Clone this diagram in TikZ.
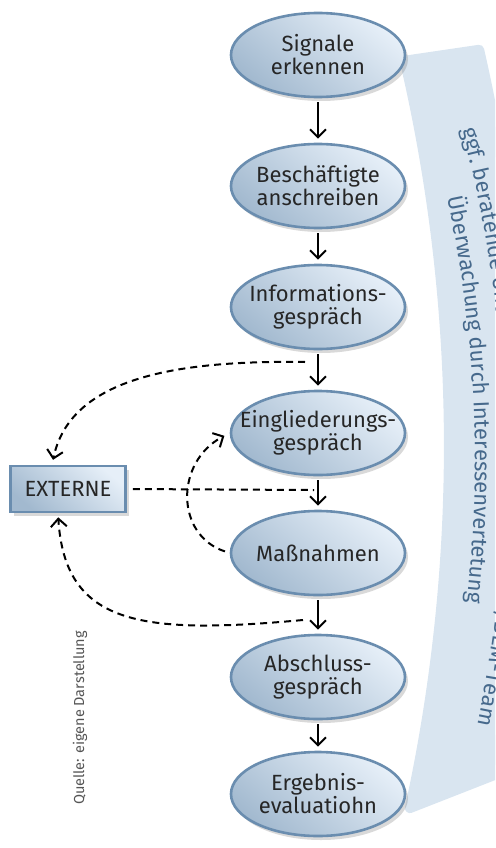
\documentclass[tikz,border=0pt]{standalone}
\usepackage{fontspec}
\setmainfont{Fira Sans}
\usetikzlibrary{shapes.geometric, arrows.meta, shadows, decorations.text}

\definecolor{rimblue}{HTML}{6A8DAF}
\definecolor{fillhi}{HTML}{E6EFF8}
\definecolor{filllo}{HTML}{A2B9CF}
\definecolor{bandblue}{HTML}{D9E5F0}
\definecolor{bandtext}{HTML}{46698C}
\definecolor{quellegray}{HTML}{555555}
\newcommand{\phasefont}{\fontsize{22}{23}\selectfont}
\newcommand{\bandfont}{\fontsize{22}{24}\selectfont}
\newcommand{\quellefont}{\fontsize{14.5}{16}\selectfont}

\begin{document}
\begin{tikzpicture}[x=1pt, y=1pt,
    phase/.style={ellipse, draw=rimblue, line width=2.6pt, top color=fillhi, bottom color=filllo, shading angle=-40,
        minimum width=174pt, minimum height=84pt, inner xsep=-40pt, inner ysep=-10pt,
        align=center, font=\phasefont, text=black!85,
        drop shadow={shadow xshift=3pt, shadow yshift=-4pt, opacity=0.3}},
    extbox/.style={rectangle, draw=rimblue, line width=2.6pt, top color=fillhi, bottom color=filllo, shading angle=-40,
        minimum width=115pt, minimum height=46pt, font=\phasefont, text=black!85,
        drop shadow={shadow xshift=3pt, shadow yshift=-4pt, opacity=0.3}},
    flow/.style={-{Straight Barb[length=8pt, width=16pt]}, line width=2pt},
    link/.style={flow, dash pattern=on 7pt off 5pt},
]
\useasboundingbox (0,0) rectangle (495,-848);
\clip (0,0) rectangle (495,-848);

% Band on the right
\coordinate (bandc) at (-1251,-446);
\filldraw[bandblue, line width=10pt, line join=round] ([shift={(13.1:1700)}]bandc) -- ([shift={(12.9:1775)}]bandc)
    arc[start angle=12.9, end angle=-10.7, radius=1775] -- ([shift={(-12.3:1700)}]bandc)
    arc[start angle=-12.3, end angle=13.1, radius=1700] -- cycle;

% Band labels
\coordinate (textc) at (-795,-460);
\path[decorate, decoration={text along path, text align=center, text color=bandtext,
    text={|\bandfont|ggf. beratende Unterstützung durch Betriebsarzt/BEM-Team}}]
    ([shift={(20:1300)}]textc) arc[start angle=20, end angle=-17, radius=1300];
\path[decorate, decoration={text along path, text align=center, text color=bandtext,
    text={|\bandfont|Überwachung durch Interessenvertetung}}]
    ([shift={(18:1270)}]textc) arc[start angle=18, end angle=-12.5, radius=1270];

% Phases
\node[phase] (signal) at (318,-55) {Signale\\erkennen};
\node[phase] (besch) at (318,-186) {Beschäftigte\\anschreiben};
\node[phase] (info) at (318,-307) {Informations-\\gespräch};
\node[phase] (eingl) at (318,-433) {Eingliederungs-\\gespräch};
\node[phase] (massn) at (318,-553) {Maßnahmen};
\node[phase] (absch) at (318,-677) {Abschluss-\\gespräch};
\node[phase] (ergeb) at (318,-794) {Ergebnis-\\evaluatiohn};

\node[extbox] (externe) at (68,-489) {EXTERNE};
\node[rotate=90, font=\quellefont, text=quellegray] (quelle) at (80,-718) {Quelle: eigene Darstellung};

% Main flow
\foreach \a/\b in {signal/besch, besch/info, info/eingl, eingl/massn, massn/absch, absch/ergeb}
    \draw[flow, shorten <=4pt, shorten >=4pt] (\a.south) -- (\b.north);

% Links to EXTERNE
\coordinate (j1) at (305,-362);
\coordinate (j2) at (314,-490);
\coordinate (j3) at (303,-620);
\draw[link, shorten >=5pt] (j1) .. controls (170,-360) and (70,-380) .. ([xshift=-16pt]externe.north);
\draw[link, -, shorten <=6pt] (externe.east) -- (j2);
\draw[link, shorten <=5pt, shorten >=6pt] (massn.west) .. controls (175,-535) and (175,-462) .. (eingl.west);
\draw[link, shorten >=4pt] (j3) .. controls (140,-635) and (65,-625) .. ([xshift=-10pt]externe.south);

\end{tikzpicture}
\end{document}
